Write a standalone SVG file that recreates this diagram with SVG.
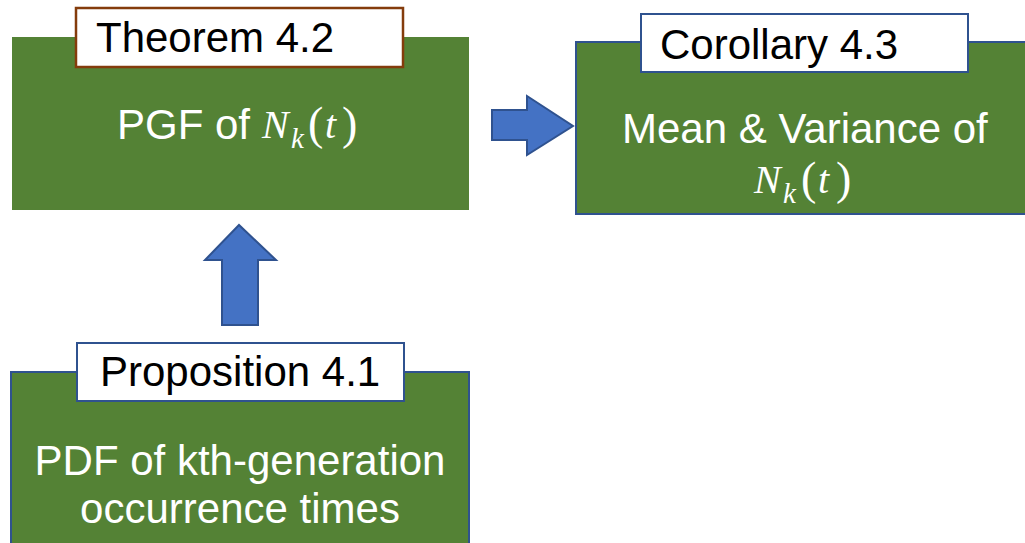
<svg xmlns="http://www.w3.org/2000/svg" width="1025" height="543" viewBox="0 0 1025 543">
<style>
.box{fill:#548235}
.bbox{fill:#548235;stroke:#2F528F;stroke-width:2}
.lbl{fill:#FFFFFF;stroke:#2F528F;stroke-width:2}
.lblb{fill:#FFFFFF;stroke:#843C0C;stroke-width:2.5}
.lt{font-family:"Liberation Sans",Arial,sans-serif;font-size:42px;fill:#000000}
.wt{font-family:"Liberation Sans",Arial,sans-serif;font-size:42px;fill:#FFFFFF}
.m{font-family:"Liberation Serif","Times New Roman",serif;font-style:italic;font-size:40px;fill:#FFFFFF}
.ms{font-family:"Liberation Serif","Times New Roman",serif;font-style:italic;font-size:29px;fill:#FFFFFF}
.mp{font-family:"Liberation Serif","Times New Roman",serif;font-size:46px;fill:#FFFFFF}
.arr{fill:#4472C4;stroke:#2F528F;stroke-width:2;stroke-linejoin:miter}
</style>
<rect width="1025" height="543" fill="#FFFFFF"/>
<g id="theorem">
<rect class="box" x="12" y="37" width="457" height="173"/>
<rect class="lblb" x="76" y="8" width="327" height="59"/>
<text class="lt" x="96" y="52">Theorem 4.2</text>
<text class="wt" x="117" y="139">PGF of</text>
<text class="m" x="262" y="138">N</text>
<text class="ms" x="291" y="148">k</text>
<text class="mp" x="308" y="139">(</text>
<text class="m" x="325" y="138">t</text>
<text class="mp" x="342" y="139">)</text>
</g>
<g id="corollary">
<rect class="bbox" x="576" y="42" width="460" height="172"/>
<rect class="lbl" x="641" y="14" width="327" height="58"/>
<text class="lt" x="660" y="59">Corollary 4.3</text>
<text class="wt" x="622" y="143">Mean &amp; Variance of</text>
<text class="m" x="754" y="193">N</text>
<text class="ms" x="783" y="203">k</text>
<text class="mp" x="801" y="194">(</text>
<text class="m" x="818" y="193">t</text>
<text class="mp" x="836" y="194">)</text>
</g>
<g id="proposition">
<rect class="bbox" x="11" y="372" width="458" height="180"/>
<rect class="lbl" x="77" y="343" width="327" height="58"/>
<text class="lt" x="100" y="386">Proposition 4.1</text>
<text class="wt" x="240" y="475" text-anchor="middle">PDF of kth-generation</text>
<text class="wt" x="240" y="523" text-anchor="middle">occurrence times</text>
</g>
<g id="connectors">
<polygon class="arr" points="492,110 527,110 527,96 573,126 527,155 527,140 492,140"/>
<polygon class="arr" points="222,325 222,260 205,260 239,225 276,260 258,260 258,325"/>
</g>
</svg>
